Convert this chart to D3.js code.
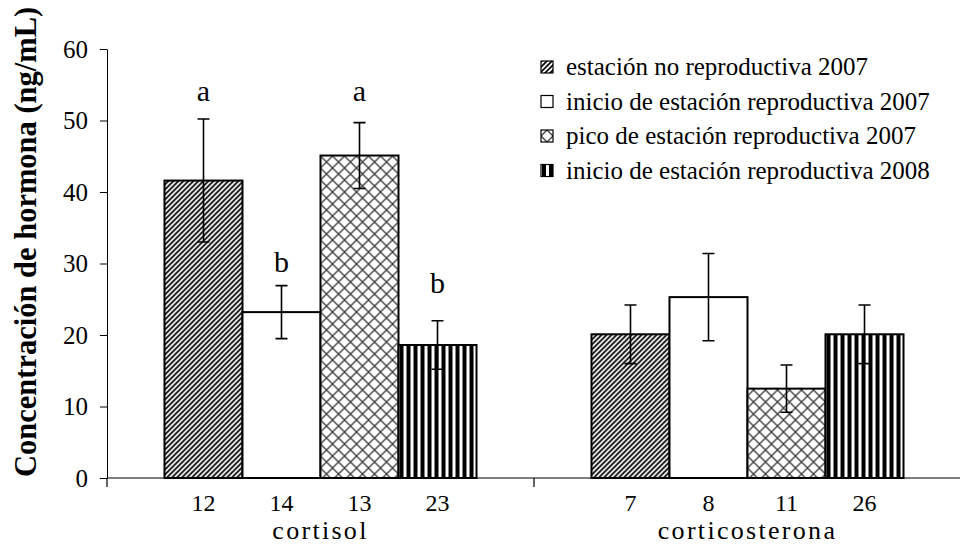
<!DOCTYPE html>
<html>
<head>
<meta charset="utf-8">
<style>
  body { margin: 0; background: #fff; }
</style>
</head>
<body>
<svg width="960" height="544" font-family="'Liberation Serif', 'Times New Roman', Times, 'DejaVu Serif', serif"></svg>
<script src="https://cdn.jsdelivr.net/npm/d3@7"></script>
<script>
// hormone groups and seasons
var hormones = ["cortisol", "corticosterona"];
var seasons = [
  "estación no reproductiva 2007",
  "inicio de estación reproductiva 2007",
  "pico de estación reproductiva 2007",
  "inicio de estación reproductiva 2008"
];

// mean values (ng/mL), one per season
var cortisolMean = [41.6, 23.2, 45.1, 18.6];
var corticoMean  = [20.1, 25.3, 12.5, 20.1];
// error (+/-)
var cortisolErr = [8.6, 3.7, 4.6, 3.4];
var corticoErr  = [4.1, 6.1, 3.3, 4.1];
// sample sizes shown under each bar
var cortisolN = [12, 14, 13, 23];
var corticoN  = [7, 8, 11, 26];
// significance letters and the height (ng/mL) where they sit
var cortisolLetters = ["a", "b", "a", "b"];
var cortisolLetterAt = [52.7, 28.8, 52.7, 25.9];
var corticoLetters = ["", "", "", ""];
var corticoLetterAt = [0, 0, 0, 0];

var yTicks = [0, 10, 20, 30, 40, 50, 60];

var FONT = "'Liberation Serif', 'Times New Roman', Times, 'DejaVu Serif', serif";

var rows = [];
hormones.forEach(function(h, gi) {
  var m = gi === 0 ? cortisolMean : corticoMean,
      e = gi === 0 ? cortisolErr : corticoErr,
      n = gi === 0 ? cortisolN : corticoN,
      l = gi === 0 ? cortisolLetters : corticoLetters,
      la = gi === 0 ? cortisolLetterAt : corticoLetterAt;
  seasons.forEach(function(s, i) {
    rows.push({hormone: h, season: s, si: i, value: m[i], err: e[i], n: n[i], letter: l[i], letterAt: la[i]});
  });
});

var svg = d3.select("svg");

var x = d3.scaleBand().domain(hormones).range([107, 961]);
var xs = d3.scaleBand().domain(seasons).range([0, x.bandwidth()]).paddingInner(0).paddingOuter(0.737);
var y = d3.scaleLinear().domain([0, 60]).range([478, 49]);

// patterns
var defs = svg.append("defs");
var pDiag = defs.append("pattern").attr("id", "p0")
    .attr("patternUnits", "userSpaceOnUse").attr("width", 5).attr("height", 5);
pDiag.append("rect").attr("width", 5).attr("height", 5).attr("fill", "#fff");
pDiag.append("path").attr("d", "M-1,1L1,-1M0,5L5,0M4,6L6,4")
    .attr("stroke", "#000").attr("stroke-width", 1.7);

var pOpen = defs.append("pattern").attr("id", "p1")
    .attr("patternUnits", "userSpaceOnUse").attr("width", 4).attr("height", 4);
pOpen.append("rect").attr("width", 4).attr("height", 4).attr("fill", "#fff");

var pCross = defs.append("pattern").attr("id", "p2")
    .attr("patternUnits", "userSpaceOnUse").attr("width", 12).attr("height", 12);
pCross.append("rect").attr("width", 12).attr("height", 12).attr("fill", "#fff");
pCross.append("path").attr("d", "M0,0L12,12M12,0L0,12")
    .attr("stroke", "#3a3a3a").attr("stroke-width", 1.3);

var pVert = defs.append("pattern").attr("id", "p3")
    .attr("patternUnits", "userSpaceOnUse").attr("width", 7).attr("height", 7);
pVert.append("rect").attr("width", 7).attr("height", 7).attr("fill", "#fff");
pVert.append("rect").attr("x", 1).attr("width", 4).attr("height", 7).attr("fill", "#000");

// y axis
var yAxis = svg.append("g")
    .attr("transform", "translate(107,0)")
    .call(d3.axisLeft(y).tickValues(yTicks).tickSize(7).tickSizeOuter(0).tickPadding(12));
yAxis.attr("font-family", FONT).attr("font-size", 25);
yAxis.select(".domain").attr("stroke", "#000");
yAxis.selectAll(".tick line").attr("stroke", "#000");
yAxis.selectAll("text").attr("fill", "#000").attr("dy", "0.33em");

// bars
var bars = svg.append("g").selectAll("g").data(rows).enter().append("g")
    .attr("transform", function(d) { return "translate(" + (x(d.hormone) + xs(d.season)) + ",0)"; });

bars.append("rect")
    .attr("x", 0)
    .attr("y", function(d) { return y(d.value); })
    .attr("width", xs.bandwidth())
    .attr("height", function(d) { return y(0) - y(d.value); })
    .attr("fill", function(d) { return "url(#p" + d.si + ")"; })
    .attr("stroke", "#000")
    .attr("stroke-width", 2);

// error bars
var cx = xs.bandwidth() / 2;
bars.append("path")
    .attr("d", function(d) {
      var t = y(d.value + d.err), b = y(d.value - d.err);
      return "M" + cx + "," + t + "V" + b + "M" + (cx - 6) + "," + t + "H" + (cx + 6) + "M" + (cx - 6) + "," + b + "H" + (cx + 6);
    })
    .attr("stroke", "#000").attr("stroke-width", 1.6).attr("fill", "none");

// letters
bars.filter(function(d) { return d.letter; }).append("text")
    .attr("x", cx)
    .attr("y", function(d) { return y(d.letterAt); })
    .attr("text-anchor", "middle")
    .attr("font-size", 30)
    .text(function(d) { return d.letter; });

// sample sizes
bars.append("text")
    .attr("x", cx)
    .attr("y", 511)
    .attr("text-anchor", "middle")
    .attr("font-size", 24)
    .text(function(d) { return d.n; });

// x axis line and group separators
svg.append("line").attr("x1", 107).attr("x2", 960).attr("y1", y(0)).attr("y2", y(0))
    .attr("stroke", "#000").attr("stroke-width", 1.2);
svg.append("g").selectAll("line").data(hormones).enter().append("line")
    .attr("x1", function(d) { return x(d); }).attr("x2", function(d) { return x(d); })
    .attr("y1", y(0)).attr("y2", y(0) + 9)
    .attr("stroke", "#000").attr("stroke-width", 1.2);

// group labels
svg.append("g").selectAll("text").data(hormones).enter().append("text")
    .attr("x", function(d) { return x(d) + x.bandwidth() / 2; })
    .attr("y", 539)
    .attr("text-anchor", "middle")
    .attr("font-size", 26)
    .attr("letter-spacing", 2.3)
    .text(function(d) { return d; });

// y title
svg.append("text")
    .attr("transform", "translate(36,477) rotate(-90)")
    .attr("font-size", 30.5)
    .attr("font-weight", "bold")
    .text("Concentración de hormona (ng/mL)");

// legend
var lg = svg.append("g").selectAll("g").data(seasons).enter().append("g")
    .attr("transform", function(d, i) { return "translate(541," + (67 + i * 34.5) + ")"; });
lg.append("rect")
    .attr("x", 0).attr("y", -6).attr("width", 12).attr("height", 12)
    .attr("fill", function(d, i) { return "url(#p" + i + ")"; })
    .attr("stroke", "#000").attr("stroke-width", 1.2);
lg.append("text")
    .attr("x", 25).attr("y", 8)
    .attr("font-size", 25)
    .text(function(d) { return d; });
</script>
</body>
</html>
